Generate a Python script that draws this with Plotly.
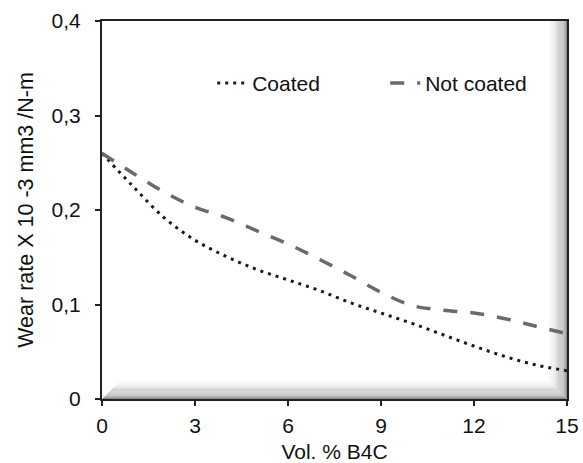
import plotly.graph_objects as go

vol_b4c = [0, 1, 2, 3, 4, 5, 6, 7, 8, 9, 10, 11, 12, 13, 14, 15]
coated = [0.260, 0.225, 0.192, 0.168, 0.151, 0.137, 0.126, 0.115, 0.102, 0.091,
          0.080, 0.068, 0.056, 0.045, 0.036, 0.030]
not_coated = [0.260, 0.239, 0.219, 0.203, 0.192, 0.178, 0.164, 0.148, 0.131, 0.113,
              0.099, 0.094, 0.091, 0.085, 0.077, 0.069]
x_ticks = [0, 3, 6, 9, 12, 15]
y_ticks = [0, 0.1, 0.2, 0.3, 0.4]
y_tick_labels = ["0", "0,1", "0,2", "0,3", "0,4"]

FONT = "Liberation Sans, Arial, sans-serif"

fig = go.Figure()
fig.add_trace(go.Scatter(
    x=vol_b4c, y=coated, name="Coated", mode="lines",
    line=dict(color="#1a1a1a", width=3, dash="3px,5px", shape="spline", smoothing=1.0),
))
fig.add_trace(go.Scatter(
    x=vol_b4c, y=not_coated, name="Not coated", mode="lines",
    line=dict(color="#6a6a6a", width=3.5, dash="14px,13px", shape="spline", smoothing=1.0),
))

# bevel shading inside plot frame (bottom and right edges)
N = 16
dx = 18 / 465
dy = 18 / 378
shapes = []
for i in range(N):
    t0 = i / N
    t1 = (i + 1) / N
    g = int(140 + (255 - 140) * (t0 ** 0.6))
    col = f"rgb({g},{g},{g})"
    shapes.append(dict(
        type="path", xref="x domain", yref="y domain", layer="below",
        path=f"M {t0*dx} {t0*dy} L {1 - t0*dx} {t0*dy} L {1 - t1*dx} {t1*dy} L {t1*dx} {t1*dy} Z",
        fillcolor=col, line=dict(width=0),
    ))
    shapes.append(dict(
        type="path", xref="x domain", yref="y domain", layer="below",
        path=f"M {1 - t0*dx} {t0*dy} L {1 - t0*dx} 1 L {1 - t1*dx} 1 L {1 - t1*dx} {t1*dy} Z",
        fillcolor=col, line=dict(width=0),
    ))

fig.update_layout(
    width=583, height=463,
    margin=dict(l=102, r=16, t=21, b=64),
    paper_bgcolor="white", plot_bgcolor="white",
    font=dict(family=FONT, size=21, color="#111"),
    shapes=shapes,
    showlegend=True,
    legend=dict(
        orientation="h", x=0.237, y=0.835, xanchor="left", yanchor="middle",
        bgcolor="rgba(0,0,0,0)", font=dict(size=21), entrywidth=128,
    ),
    xaxis=dict(
        range=[0, 15], tickvals=x_ticks, ticks="outside", ticklen=5, tickwidth=1.5,
        tickcolor="#222", showline=True, linecolor="#222", linewidth=2, mirror=True,
        showgrid=False, zeroline=False, ticklabelstandoff=2, automargin=False,
        title=dict(text="Vol. % B4C", standoff=12, font=dict(size=21)),
        tickfont=dict(size=21),
    ),
    yaxis=dict(
        range=[0, 0.4], tickvals=y_ticks, ticktext=y_tick_labels, ticks="outside",
        ticklen=5, tickwidth=1.5, tickcolor="#222", showline=True, linecolor="#222",
        linewidth=2, mirror=True, showgrid=False, zeroline=False, ticklabelstandoff=10,
        automargin=False,
        title=dict(text="Wear rate X 10 -3 mm3 /N-m", standoff=12, font=dict(size=21.5)),
        tickfont=dict(size=21),
    ),
)

fig.write_html("out.html")
